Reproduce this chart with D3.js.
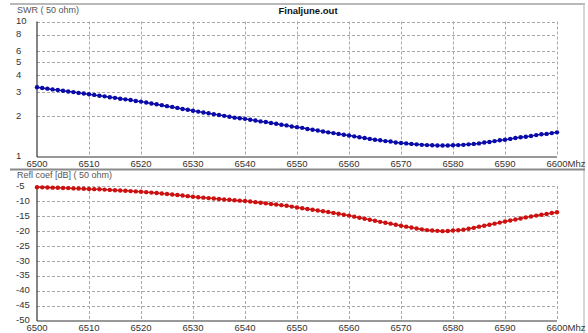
<!DOCTYPE html>
<html>
<head>
<meta charset="utf-8">
<script src="https://cdn.jsdelivr.net/npm/d3@7"></script>
<style>
  body { margin: 0; background: #fff; }
  svg text { font-family: "Liberation Sans", Arial, sans-serif; }
  .grid line { stroke: #a8a8a8; stroke-dasharray: 3,2; stroke-width: 1; }
  .lbl { font-size: 9.5px; fill: #333; }
</style>
</head>
<body>
<div id="chart"></div>
<script>
// frequency axis, 1 MHz steps
const freqs = d3.range(6500, 6601, 1);
const freqTicks = [6500, 6510, 6520, 6530, 6540, 6550, 6560, 6570, 6580, 6590, 6600];

// SWR
const swr = [
  3.26, 3.22, 3.18, 3.14, 3.11, 3.07, 3.03, 3.00, 2.96, 2.93, 2.89,
  2.86, 2.82, 2.79, 2.75, 2.72, 2.68, 2.65, 2.62, 2.58, 2.55,
  2.51, 2.47, 2.44, 2.40, 2.36, 2.33, 2.29, 2.25, 2.22, 2.18,
  2.15, 2.12, 2.09, 2.06, 2.03, 2.00, 1.97, 1.94, 1.92, 1.90,
  1.87, 1.85, 1.82, 1.80, 1.77, 1.75, 1.72, 1.70, 1.67, 1.65,
  1.63, 1.60, 1.58, 1.56, 1.53, 1.51, 1.49, 1.47, 1.45, 1.43,
  1.41, 1.39, 1.37, 1.35, 1.33, 1.32, 1.30, 1.29, 1.27, 1.26,
  1.25, 1.24, 1.23, 1.22, 1.215, 1.21, 1.205, 1.205, 1.205, 1.21,
  1.215, 1.22, 1.23, 1.24, 1.25, 1.27, 1.28, 1.30, 1.32, 1.33,
  1.35, 1.37, 1.39, 1.40, 1.42, 1.44, 1.46, 1.47, 1.49, 1.51
];
const swrTicks = [1, 2, 3, 4, 5, 6, 8, 10];
const swrGrid = [2, 3, 4, 5, 6, 8, 10];

// reflection coefficient [dB]
const refl = [
  -5.4, -5.45, -5.5, -5.55, -5.6, -5.65, -5.7, -5.8, -5.85, -5.9, -6.0,
  -6.05, -6.1, -6.2, -6.3, -6.4, -6.5, -6.6, -6.7, -6.8, -6.9,
  -7.05, -7.2, -7.35, -7.5, -7.7, -7.85, -8.0, -8.2, -8.4, -8.6,
  -8.75, -8.9, -9.05, -9.2, -9.35, -9.5, -9.6, -9.75, -9.9, -10.0,
  -10.2, -10.4, -10.6, -10.8, -11.0, -11.2, -11.4, -11.6, -11.9, -12.2,
  -12.45, -12.7, -12.95, -13.2, -13.45, -13.7, -14.0, -14.3, -14.6, -14.9,
  -15.25, -15.6, -15.95, -16.3, -16.65, -17.0, -17.3, -17.6, -17.95, -18.3,
  -18.6, -18.9, -19.2, -19.5, -19.75, -19.9, -20.0, -20.1, -20.05, -19.9,
  -19.8, -19.6, -19.3, -19.0, -18.6, -18.3, -17.95, -17.6, -17.25, -16.9,
  -16.55, -16.2, -15.85, -15.5, -15.2, -14.9, -14.6, -14.35, -14.05, -13.8
];
const reflTicks = [-5, -10, -15, -20, -25, -30, -35, -40, -45, -50];

const W = 588, H = 333;
const svg = d3.select("#chart").append("svg")
    .attr("width", W)
    .attr("height", H);

const x = d3.scaleLinear().domain([6500, 6600]).range([37, 557]);

// panel frames
svg.append("line").attr("x1", 10).attr("x2", 585).attr("y1", 4).attr("y2", 4)
    .attr("stroke", "#b8b8b8").attr("stroke-width", 2);
svg.append("line").attr("x1", 584).attr("x2", 584).attr("y1", 4).attr("y2", 333)
    .attr("stroke", "#c8c8c8").attr("stroke-width", 1.5);
svg.append("line").attr("x1", 10).attr("x2", 585).attr("y1", 169.5).attr("y2", 169.5)
    .attr("stroke", "#8a8a8a").attr("stroke-width", 2);

function panel(cfg) {
    let g = svg.append("g");
    let y = cfg.y;
    let [y0, y1] = y.range();

    // grid
    let grid = g.append("g").attr("class", "grid");
    grid.selectAll(".hg").data(cfg.grid).enter().append("line")
        .attr("x1", x(6500)).attr("x2", x(6600))
        .attr("y1", d => Math.round(y(d)) + 0.5).attr("y2", d => Math.round(y(d)) + 0.5);
    grid.selectAll(".vg").data(freqTicks.slice(1)).enter().append("line")
        .attr("x1", d => Math.round(x(d)) + 0.5).attr("x2", d => Math.round(x(d)) + 0.5)
        .attr("y1", y1).attr("y2", y0);

    // axis lines
    g.append("line").attr("x1", x(6500)).attr("x2", x(6500))
        .attr("y1", y1).attr("y2", y0 + 0.5)
        .attr("stroke", "#333").attr("stroke-width", 1.2);
    g.append("line").attr("x1", x(6500)).attr("x2", x(6600))
        .attr("y1", y0 + 0.5).attr("y2", y0 + 0.5)
        .attr("stroke", "#333").attr("stroke-width", 1.2);

    // y tick labels
    g.selectAll(".yl").data(cfg.ticks).enter().append("text")
        .attr("class", "lbl")
        .attr("x", 16)
        .attr("y", d => y(d) - 0.5)
        .attr("dy", "0.35em")
        .text(d => d);

    // x tick labels
    g.selectAll(".xl").data(freqTicks).enter().append("text")
        .attr("class", "lbl")
        .attr("x", d => x(d))
        .attr("y", cfg.xLabelY)
        .attr("text-anchor", "middle")
        .text(d => d);
    g.append("text").attr("class", "lbl")
        .attr("x", x(6600) + 10.5).attr("y", cfg.xLabelY)
        .text("Mhz");

    // axis title
    g.append("text").attr("class", "lbl")
        .attr("x", 17).attr("y", cfg.titleY)
        .style("fill", "#555").style("font-size", "9px")
        .text(cfg.title);

    // series
    let line = d3.line().x((d, i) => x(freqs[i])).y(d => y(d));
    g.append("path").attr("d", line(cfg.values))
        .attr("fill", "none").attr("stroke", cfg.color).attr("stroke-width", 1.5);
    g.selectAll(".dot").data(cfg.values).enter().append("circle")
        .attr("cx", (d, i) => x(freqs[i]))
        .attr("cy", d => y(d))
        .attr("r", 2.2)
        .attr("fill", cfg.color);
}

panel({
    y: d3.scaleLog().domain([1, 10]).range([156.5, 21.5]),
    grid: swrGrid,
    ticks: swrTicks,
    values: swr,
    color: "#0a0aa8",
    title: "SWR ( 50 ohm)",
    titleY: 13,
    xLabelY: 167
});

panel({
    y: d3.scaleLinear().domain([-50, -5]).range([320.5, 186]),
    grid: reflTicks.slice(0, -1),
    ticks: reflTicks,
    values: refl,
    color: "#cc1010",
    title: "Refl coef [dB] ( 50 ohm)",
    titleY: 178,
    xLabelY: 331
});

// file title
svg.append("text")
    .attr("x", 308).attr("y", 14)
    .attr("text-anchor", "middle")
    .style("font-size", "9.5px").style("font-weight", "bold").style("fill", "#111")
    .text("Finaljune.out");
</script>
</body>
</html>
